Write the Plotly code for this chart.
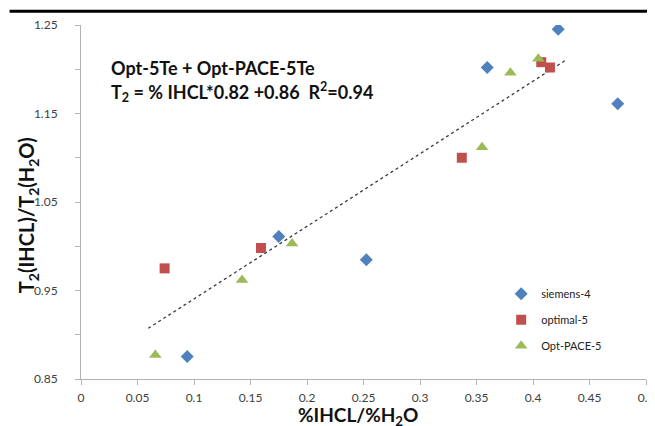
import numpy as np
import plotly.graph_objects as go

# --- data ---
siemens_x = [0.094, 0.175, 0.2525, 0.3595, 0.4223, 0.475]
siemens_y = [0.8755, 1.011, 0.9847, 1.202, 1.2453, 1.161]

optimal_x = [0.074, 0.1593, 0.337, 0.4073, 0.415]
optimal_y = [0.975, 0.998, 1.100, 1.208, 1.202]

pace_x = [0.0658, 0.1425, 0.1868, 0.3549, 0.380, 0.4047]
pace_y = [0.877, 0.962, 1.003, 1.112, 1.196, 1.212]

trend_slope = 0.82
trend_intercept = 0.86
trend_x = [0.0595, 0.4284]
trend_y = [trend_slope * v + trend_intercept - 0.0015 for v in trend_x]

x_ticks = [0, 0.05, 0.1, 0.15, 0.2, 0.25, 0.3, 0.35, 0.4, 0.45, 0.5]
y_ticks = [0.85, 0.95, 1.05, 1.15, 1.25]
y_minor = [0.90, 1.00, 1.10, 1.20]

FONT = "Lato"

fig = go.Figure()
fig.add_trace(go.Scatter(
    x=trend_x, y=trend_y, mode="lines",
    line=dict(color="#3a3a3a", width=1.3, dash="dot"),
    showlegend=False, hoverinfo="skip"))
fig.add_trace(go.Scatter(
    x=siemens_x, y=siemens_y, mode="markers", name="siemens-4",
    legendgroup="a",
    marker=dict(symbol="diamond", size=10, color="#4F81BD")))
fig.add_trace(go.Scatter(
    x=optimal_x, y=optimal_y, mode="markers", name="optimal-5",
    legendgroup="b",
    marker=dict(symbol="square", size=10, color="#C0504D")))
fig.add_trace(go.Scatter(
    x=pace_x, y=pace_y, mode="markers", name="Opt-PACE-5",
    legendgroup="c",
    marker=dict(symbol="triangle-up", size=11, color="#9BBB59")))

L, R, T, B = 72.5, 9, 14.5, 54.5
W, H = 655, 426
pw, ph = W - L - R, H - T - B

def px_to_paper_y(py):
    return 1 + (T - py) / ph

def px_to_paper_x(px):
    return (px - L) / pw

fig.update_layout(
    width=W, height=H,
    margin=dict(l=L, r=R, t=T, b=B, pad=0),
    plot_bgcolor="white", paper_bgcolor="white",
    font=dict(family=FONT, size=12, color="#404040"),
    showlegend=True,
    legend=dict(x=px_to_paper_x(499), y=px_to_paper_y(271), xanchor="left", yanchor="top",
                bgcolor="rgba(0,0,0,0)", font=dict(family=FONT, size=11, color="#222"),
                tracegroupgap=7, itemwidth=30),
    xaxis=dict(range=[0, 0.5], tickvals=x_ticks, ticktext=[str(v) for v in x_ticks],
               showgrid=False, zeroline=False, showline=True, linecolor="#B3B3B3",
               linewidth=1, ticks="outside", ticklen=5, tickcolor="#B3B3B3",
               ticklabelposition="outside", ticklabeloverflow="allow",
               ticklabelstandoff=3),
    yaxis=dict(range=[0.85, 1.25], tickvals=y_ticks, ticktext=[f"{v:.2f}" for v in y_ticks],
               showgrid=False, zeroline=False, showline=True, linecolor="#B3B3B3",
               linewidth=1, ticks="outside", ticklen=5, tickcolor="#B3B3B3",
               ticklabelposition="outside", ticklabelstandoff=15,
               minor=dict(tickvals=y_minor, ticks="outside",
                          ticklen=5, tickcolor="#B3B3B3", showgrid=False)),
    annotations=[
        dict(xref="paper", yref="paper", x=px_to_paper_x(101), y=px_to_paper_y(58),
             xanchor="left", yanchor="middle", showarrow=False,
             text="<b>Opt-5Te + Opt-PACE-5Te</b>",
             font=dict(family=FONT, size=18, color="#111")),
        dict(xref="paper", yref="paper", x=px_to_paper_x(101), y=px_to_paper_y(82),
             xanchor="left", yanchor="middle", showarrow=False,
             text="<b>T<sub>2</sub> = % IHCL*0.82 +0.86  R<sup>2</sup>=0.94</b>",
             font=dict(family=FONT, size=18, color="#111")),
        dict(xref="paper", yref="paper", x=px_to_paper_x(354), y=px_to_paper_y(409),
             xanchor="center", yanchor="middle", showarrow=False,
             text="<b>%IHCL/%H<sub>2</sub>O</b>",
             font=dict(family=FONT, size=19, color="#111")),
        dict(xref="paper", yref="paper", x=px_to_paper_x(19), y=px_to_paper_y(206),
             xanchor="center", yanchor="middle", showarrow=False, textangle=-90,
             text="<b>T<sub>2</sub>(IHCL)/T<sub>2</sub>(H<sub>2</sub>O)</b>",
             font=dict(family=FONT, size=20, color="#111")),
    ],
    shapes=[
        dict(type="rect", xref="paper", yref="paper",
             x0=-L / pw, x1=(W - L) / pw,
             y0=px_to_paper_y(2.2), y1=px_to_paper_y(-1),
             fillcolor="black", line=dict(width=0), layer="above"),
    ],
)

fig.write_html("out.html")
